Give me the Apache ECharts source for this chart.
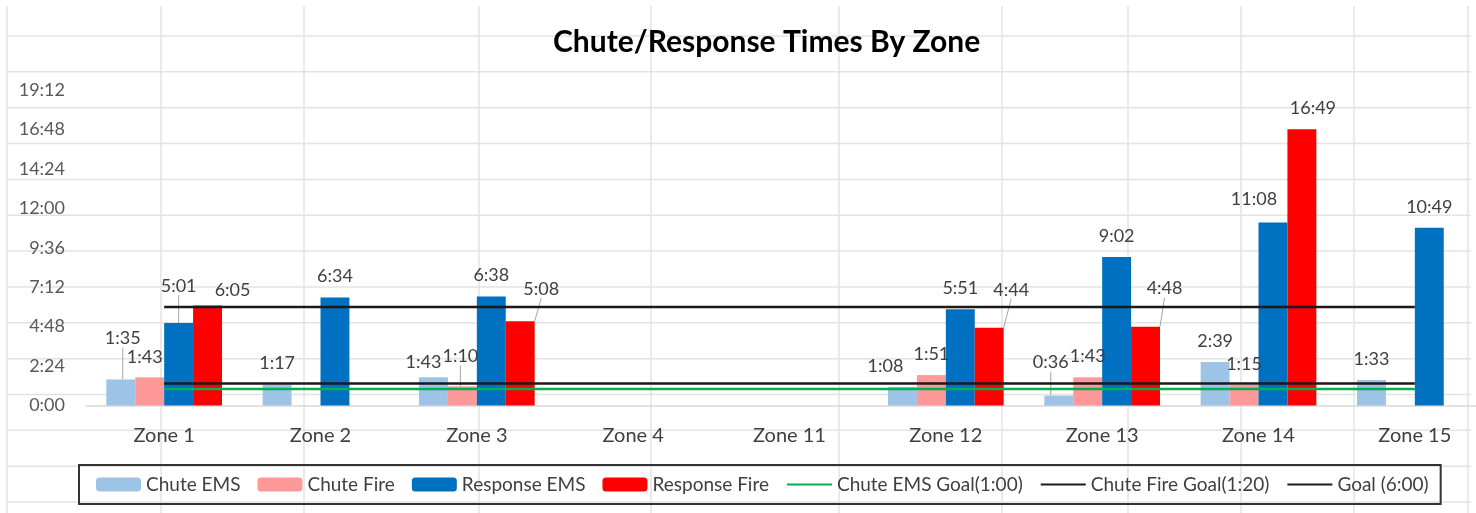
<!DOCTYPE html>
<html>
<head>
<meta charset="utf-8">
<script src="https://cdn.jsdelivr.net/npm/echarts@6/dist/echarts.min.js"></script>
<style>
  html, body { margin: 0; background: #fff; }
  #chart { width: 1476px; height: 513px; }
</style>
</head>
<body>
<div id="chart"></div>
<script>
// times are in seconds
const zones = ['Zone 1', 'Zone 2', 'Zone 3', 'Zone 4', 'Zone 11', 'Zone 12', 'Zone 13', 'Zone 14', 'Zone 15']
const chuteEms = [95, 77, 103, null, null, 68, 36, 159, 93]
const chuteFire = [103, null, 70, null, null, 111, 103, 75, null]
const responseEms = [301, 394, 398, null, null, 351, 542, 668, 649]
const responseFire = [365, null, 308, null, null, 284, 288, 1009, null]
const chuteEmsGoal = [60, 60, 60, 60, 60, 60, 60, 60, 60]
const chuteFireGoal = [80, 80, 80, 80, 80, 80, 80, 80, 80]
const responseGoal = [360, 360, 360, 360, 360, 360, 360, 360, 360]

// labels that were dragged by hand in the original: [dx, dy, leaderLine]
const labelMoves = {
  chuteEms: { 0: [2, -20, true], 2: [-10, 6], 5: [-17, 0], 6: [-8, -12, true] },
  chuteFire: { 0: [-5, 1], 2: [-2, -9, true] },
  responseEms: { 0: [0, -16, true], 7: [-19, -2] },
  responseFire: { 0: [25, 6], 2: [21, -11, true], 5: [22, -17, true], 6: [19, -17, true], 7: [11, 0] }
}

const fmt = (s) => {
  const m = Math.floor(s / 60)
  const sec = Math.round(s % 60)
  return m + ':' + String(sec).padStart(2, '0')
}

const barSeries = (name, values, color, moves) => ({
  name,
  type: 'bar',
  barGap: '0%',
  barCategoryGap: '26%',
  itemStyle: { color },
  data: values.map((v, i) => ({
    value: v,
    labelLine: { show: !!(moves[i] && moves[i][2]) }
  })),
  label: {
    show: true,
    position: 'top',
    distance: 12,
    fontSize: 18,
    color: '#404040',
    formatter: (p) => (p.value == null ? '' : fmt(p.value))
  },
  labelLine: { lineStyle: { color: '#a6a6a6', width: 1 } },
  labelLayout: (p) => {
    const m = moves[p.dataIndex]
    return m ? { dx: m[0], dy: m[1] } : {}
  }
})

const lineSeries = (name, values, color) => ({
  name,
  type: 'line',
  symbol: 'none',
  z: 5,
  lineStyle: { color, width: 2.5 },
  itemStyle: { color },
  data: values
})

// spreadsheet cell grid showing through the transparent chart
const sheetCols = [7, 161, 304, 479, 651, 839, 1002, 1128, 1241, 1354, 1468]
const sheetLines = []
sheetCols.forEach((x) => {
  sheetLines.push({ type: 'line', z: -10, shape: { x1: x, y1: 6, x2: x, y2: 513 }, style: { stroke: '#e3e3e3', lineWidth: 1.5 } })
})
for (let k = 0; k < 14; k++) {
  const y = 36 + k * 35.85
  sheetLines.push({ type: 'line', z: -10, shape: { x1: 7, y1: y, x2: 1471, y2: y }, style: { stroke: '#e3e3e3', lineWidth: 1.5 } })
}

const lineLegend = (name) => ({ name, itemStyle: { opacity: 0 } })

const chart = echarts.init(document.getElementById('chart'))
chart.setOption({
  animation: false,
  backgroundColor: '#fff',
  textStyle: { fontFamily: 'Lato' },
  graphic: sheetLines,
  title: {
    text: 'Chute/Response Times By Zone',
    left: 553,
    top: 27,
    padding: 0,
    textStyle: { fontSize: 30, fontWeight: 'bold', color: '#000' }
  },
  legend: {
    left: 79,
    top: 465,
    padding: [10, 12, 10, 17],
    itemGap: 17,
    itemWidth: 45,
    itemHeight: 14,
    borderColor: '#333',
    borderWidth: 2,
    textStyle: { fontSize: 19, color: '#404040' },
    data: ['Chute EMS', 'Chute Fire', 'Response EMS', 'Response Fire',
      lineLegend('Chute EMS Goal(1:00)'), lineLegend('Chute Fire Goal(1:20)'), lineLegend('Goal (6:00)')]
  },
  grid: { left: 86, top: 90, width: 1407, height: 315.5, outerBoundsMode: 'none' },
  xAxis: {
    type: 'category',
    data: zones,
    axisLine: { lineStyle: { color: '#d9d9d9', width: 1.5 } },
    axisTick: { show: false },
    axisLabel: { fontSize: 20, color: '#404040', margin: 20 }
  },
  yAxis: {
    type: 'value',
    min: 0,
    max: 1152,
    interval: 144,
    splitLine: { show: false },
    axisLabel: { fontSize: 18, color: '#595959', margin: 21, formatter: fmt }
  },
  series: [
    barSeries('Chute EMS', chuteEms, '#9dc3e6', labelMoves.chuteEms),
    barSeries('Chute Fire', chuteFire, '#ff9999', labelMoves.chuteFire),
    barSeries('Response EMS', responseEms, '#0070c0', labelMoves.responseEms),
    barSeries('Response Fire', responseFire, '#ff0000', labelMoves.responseFire),
    lineSeries('Chute EMS Goal(1:00)', chuteEmsGoal, '#00b050'),
    lineSeries('Chute Fire Goal(1:20)', chuteFireGoal, '#1a1a1a'),
    lineSeries('Goal (6:00)', responseGoal, '#1a1a1a')
  ]
})
</script>
</body>
</html>
